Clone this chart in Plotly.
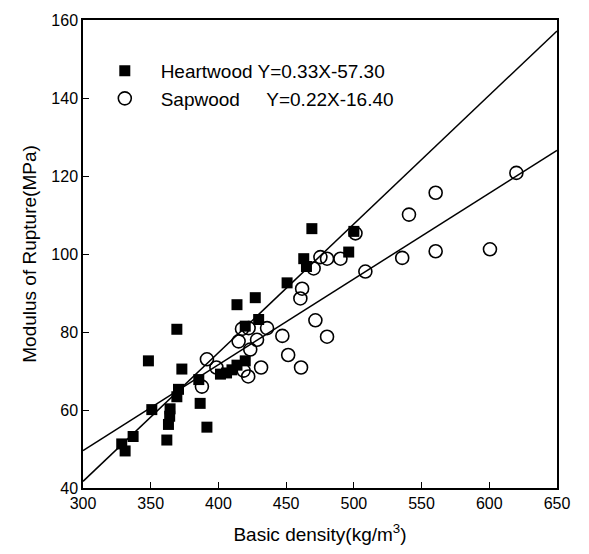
import plotly.graph_objects as go

# Heartwood (filled squares)
heart_x = [328.6, 331.1, 337.0, 348.3, 350.8, 361.9, 363.1, 364.0, 364.3, 369.3,
           370.5, 369.3, 373.0, 386.5, 391.5, 385.5, 401.5, 406.0, 410.0, 413.7,
           419.8, 413.7, 419.8, 429.7, 427.2, 450.7, 463.0, 465.0, 469.0, 496.2, 500.0]
heart_y = [51.3, 49.5, 53.2, 72.6, 60.1, 52.3, 56.3, 58.4, 60.3, 63.4,
           65.3, 80.7, 70.5, 61.7, 55.6, 67.8, 69.2, 69.5, 70.3, 71.5,
           72.6, 87.0, 81.5, 83.2, 88.8, 92.6, 98.8, 96.8, 106.5, 100.5, 105.8]

# Sapwood (open circles)
sap_x = [387.8, 391.5, 398.5, 414.9, 417.4, 422.3, 435.9, 423.5, 428.5, 418.6,
         422.0, 431.5, 447.2, 451.5, 461.0, 461.8, 460.5, 471.6, 480.2, 470.3,
         475.3, 480.2, 490.1, 501.2, 508.5, 535.7, 560.4, 600.5, 540.7, 560.4, 620.0]
sap_y = [66.0, 73.0, 70.9, 77.6, 80.8, 81.0, 81.0, 75.5, 78.0, 70.1,
         68.6, 70.9, 79.0, 74.1, 70.9, 91.1, 88.6, 83.0, 78.8, 96.3,
         99.2, 98.8, 98.8, 105.3, 95.5, 99.0, 100.7, 101.2, 110.1, 115.7, 120.8]

# Regression lines (from legend)
heart_fit = (0.33, -57.30)
sap_fit = (0.22, -16.40)
line_x = [300, 650]

x_ticks = [300, 350, 400, 450, 500, 550, 600, 650]
y_ticks = [40, 60, 80, 100, 120, 140, 160]

FONT = "Liberation Sans, Arial, sans-serif"
nb = "\u00a0"

fig = go.Figure()

fig.add_trace(go.Scatter(
    x=line_x, y=[heart_fit[0] * v + heart_fit[1] for v in line_x],
    mode="lines", line=dict(color="black", width=1.5), showlegend=False, hoverinfo="skip"))
fig.add_trace(go.Scatter(
    x=line_x, y=[sap_fit[0] * v + sap_fit[1] for v in line_x],
    mode="lines", line=dict(color="black", width=1.5), showlegend=False, hoverinfo="skip"))

fig.add_trace(go.Scatter(
    x=heart_x, y=heart_y, mode="markers",
    name=nb * 3 + "Heartwood Y=0.33X-57.30",
    marker=dict(symbol="square", size=11, color="black", line=dict(width=0))))
fig.add_trace(go.Scatter(
    x=sap_x, y=sap_y, mode="markers",
    name=nb * 3 + "Sapwood" + nb * 5 + "Y=0.22X-16.40",
    marker=dict(symbol="circle-open", size=13, color="black", line=dict(width=1.6, color="black"))))

axis_common = dict(
    showgrid=False, zeroline=False, showline=True, linecolor="black", linewidth=1.5,
    mirror=True, ticks="inside", ticklen=6, tickwidth=1.2, tickcolor="black",
    tickfont=dict(family=FONT, size=16, color="black"),
)

fig.update_layout(
    width=589, height=554,
    margin=dict(l=83, r=32, t=12, b=62),
    paper_bgcolor="white", plot_bgcolor="white",
    font=dict(family=FONT, color="black"),
    xaxis=dict(range=[300, 650], tickvals=x_ticks,
               title=dict(text="Basic density(kg/m<sup>3</sup>)", font=dict(family=FONT, size=19), standoff=17),
               **axis_common),
    yaxis=dict(range=[40, 160], tickvals=y_ticks,
               title=dict(text="Modulus of Rupture(MPa)", font=dict(family=FONT, size=19), standoff=10),
               **axis_common),
    legend=dict(x=0.046, y=0.932, xanchor="left", yanchor="top",
                bgcolor="rgba(0,0,0,0)", borderwidth=0,
                font=dict(family=FONT, size=19, color="black"),
                tracegroupgap=0),
    showlegend=True,
)

fig.write_html("out.html")
